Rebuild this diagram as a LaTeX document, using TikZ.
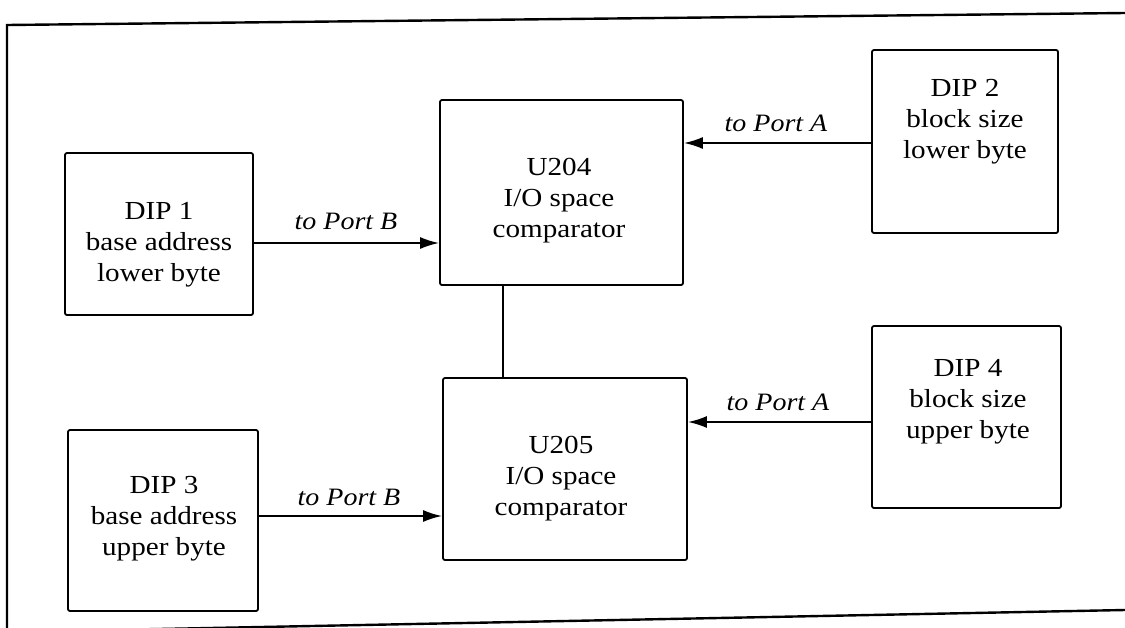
\documentclass[tikz,border=0pt]{standalone}
\usepackage{fontspec}
\setmainfont[FakeStretch=1.12]{Liberation Serif}
\usetikzlibrary{arrows.meta}
\begin{document}
\begin{tikzpicture}[x=1pt,y=-1pt,
  blk/.style={draw, line width=1.8pt, rounded corners=2pt, inner sep=0pt},
  txt/.style={align=center, font=\fontsize{26}{31}\selectfont},
  lbl/.style={font=\fontsize{25}{30}\selectfont\itshape},
  conn/.style={line width=2pt},
  arr/.style={conn, -{Latex[length=19pt,width=12pt]}}]
\useasboundingbox (0,0) rectangle (1125,627);
% frame
\coordinate (ftr) at (1125,13);
\coordinate (ftl) at (7,25);
\coordinate (fbl) at (7,632);
\coordinate (fbr) at (1125,610);
\draw[line width=2.4pt] (ftr) -- (ftl) -- (fbl) -- (fbr);
% boxes
\node[blk, minimum width=188pt, minimum height=162pt] (d1) at (159,234) {};
\node[blk, minimum width=190pt, minimum height=181pt] (d3) at (163,520.5) {};
\node[blk, minimum width=186pt, minimum height=183pt] (d2) at (965,141.5) {};
\node[blk, minimum width=189pt, minimum height=182pt] (d4) at (966.5,417) {};
\node[blk, minimum width=243pt, minimum height=185pt] (u4) at (561.5,192.5) {};
\node[blk, minimum width=244pt, minimum height=182pt] (u5) at (565,469) {};
% texts
\node[txt] (d1t) at (159,245) {DIP 1\\base address\\lower byte};
\node[txt] (d3t) at (164,519) {DIP 3\\base address\\upper byte};
\node[txt] (d2t) at (965,122) {DIP 2\\block size\\lower byte};
\node[txt] (d4t) at (968,402) {DIP 4\\block size\\upper byte};
\node[txt] (u4t) at (559,201) {U204\\I/O space\\comparator};
\node[txt] (u5t) at (561,479) {U205\\I/O space\\comparator};
% connectors
\draw[arr] (d1.east |- 0,243) -- (u4.west |- 0,243);
\draw[arr] (d3.east |- 0,516) -- (u5.west |- 0,516);
\draw[arr] (d2.west |- 0,143) -- (u4.east |- 0,143);
\draw[arr] (d4.west |- 0,422) -- (u5.east |- 0,422);
\draw[line width=1.2pt] (u4.south -| 503,0) -- (u5.north -| 503,0);
% labels
\node[lbl] (lb1) at (346,221) {to Port B};
\node[lbl] (lb2) at (349,497) {to Port B};
\node[lbl] (la1) at (776,123) {to Port A};
\node[lbl] (la2) at (778,402) {to Port A};
\end{tikzpicture}
\end{document}
